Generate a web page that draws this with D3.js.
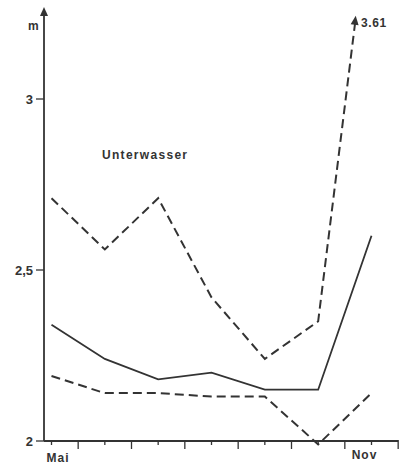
<!DOCTYPE html>
<html>
<head>
<meta charset="utf-8">
<script src="https://cdn.jsdelivr.net/npm/d3@7"></script>
<style>
  body { margin: 0; background: #fff; }
  text { font-family: "Liberation Sans", Arial, sans-serif; font-weight: bold; fill: #333; }
</style>
</head>
<body>
<div id="chart"></div>
<script>
// months May..Nov
var months = ["Mai", "Jun", "Jul", "Aug", "Sep", "Okt", "Nov"];
var monthLabels = ["Mai", "", "", "", "", "", "Nov"];
var upper = [2.71, 2.56, 2.71, 2.42, 2.24, 2.35, 3.61];
var mean = [2.34, 2.24, 2.18, 2.20, 2.15, 2.15, 2.60];
var lower = [2.19, 2.14, 2.14, 2.13, 2.13, 1.99, 2.14];
var yTicks = [2, 2.5, 3];
var yTickLabels = ["2", "2,5", "3"];
var yTop = 3.22;   // top of drawn area, values above are cut with an arrow

var width = 404, height = 466;

var x = d3.scaleLinear()
    .domain([0, 6])
    .range([51.5, 371.5]);

var y = d3.scaleLinear()
    .domain([2, 3])
    .range([441, 99]);

var svg = d3.select("#chart")
    .append("svg")
        .attr("width", width)
        .attr("height", height);

var ink = "#333";

// y axis with arrow
svg.append("line")
    .attr("x1", 44).attr("x2", 44)
    .attr("y1", y(2)).attr("y2", 14)
    .attr("stroke", ink).attr("stroke-width", 1.8);
svg.append("path")
    .attr("d", "M44,7 L40,16 L48,16 Z")
    .attr("fill", ink);

svg.selectAll(".ytick")
    .data(yTicks)
    .enter().append("line")
    .attr("x1", 36).attr("x2", 44)
    .attr("y1", function(d) { return y(d); })
    .attr("y2", function(d) { return y(d); })
    .attr("stroke", ink).attr("stroke-width", 1.3);

svg.selectAll(".ylab")
    .data(yTicks)
    .enter().append("text")
    .attr("x", 33)
    .attr("y", function(d) { return y(d) + 4.5; })
    .attr("text-anchor", "end")
    .style("font-size", "13px")
    .text(function(d, i) { return yTickLabels[i]; });

svg.append("text")
    .attr("x", 28).attr("y", 30)
    .style("font-size", "12px")
    .text("m");

// x axis
svg.append("line")
    .attr("x1", 44).attr("x2", x(6.5))
    .attr("y1", y(2)).attr("y2", y(2))
    .attr("stroke", ink).attr("stroke-width", 1.8);

var halfTicks = d3.range(0, 6.51, 0.5);
svg.selectAll(".xtick")
    .data(halfTicks)
    .enter().append("line")
    .attr("x1", function(d) { return x(d); })
    .attr("x2", function(d) { return x(d); })
    .attr("y1", y(2) - 1)
    .attr("y2", function(d) { return y(2) + (d % 1 === 0 ? 4 : 8); })
    .attr("stroke", ink).attr("stroke-width", 1.3);

svg.selectAll(".xlab")
    .data(monthLabels)
    .enter().append("text")
    .attr("x", function(d, i) { return i === 0 ? x(i) - 5 : x(i) - 7; })
    .attr("y", function(d, i) { return i === 0 ? 462 : 459; })
    .attr("text-anchor", function(d, i) { return i === 0 ? "start" : "middle"; })
    .style("font-size", "12px")
    .style("letter-spacing", "1px")
    .text(function(d) { return d; });

// series
function clipPoints(vals) {
    var pts = [];
    vals.forEach(function(v, i) {
        if (v <= yTop) {
            pts.push([x(i), y(v)]);
        } else if (i > 0 && vals[i - 1] <= yTop) {
            var t = (yTop - vals[i - 1]) / (v - vals[i - 1]);
            pts.push([x(i - 1 + t), y(yTop)]);
        }
    });
    return pts;
}

var line = d3.line();

svg.append("path")
    .attr("d", line(clipPoints(upper)))
    .attr("fill", "none").attr("stroke", ink)
    .attr("stroke-width", 2).attr("stroke-dasharray", "9,5");

svg.append("path")
    .attr("d", line(clipPoints(mean)))
    .attr("fill", "none").attr("stroke", ink)
    .attr("stroke-width", 1.8);

svg.append("path")
    .attr("d", line(clipPoints(lower)))
    .attr("fill", "none").attr("stroke", ink)
    .attr("stroke-width", 2).attr("stroke-dasharray", "9,5");

// arrow at cut value
var cut = clipPoints(upper);
var tip = cut[cut.length - 1];
var prev = cut[cut.length - 2];
var ang = Math.atan2(tip[1] - prev[1], tip[0] - prev[0]) * 180 / Math.PI + 90;
svg.append("path")
    .attr("d", "M0,-6 L-4,3 L4,3 Z")
    .attr("transform", "translate(" + tip[0] + "," + (tip[1] - 2) + ") rotate(" + ang + ")")
    .attr("fill", ink);

svg.append("text")
    .attr("x", tip[0] + 6).attr("y", tip[1] + 3)
    .style("font-size", "12px")
    .style("letter-spacing", "0.6px")
    .text(d3.format(".2f")(upper[upper.length - 1]));

svg.append("text")
    .attr("x", 102).attr("y", 159)
    .style("font-size", "12px")
    .style("letter-spacing", "1.3px")
    .text("Unterwasser");
</script>
</body>
</html>
